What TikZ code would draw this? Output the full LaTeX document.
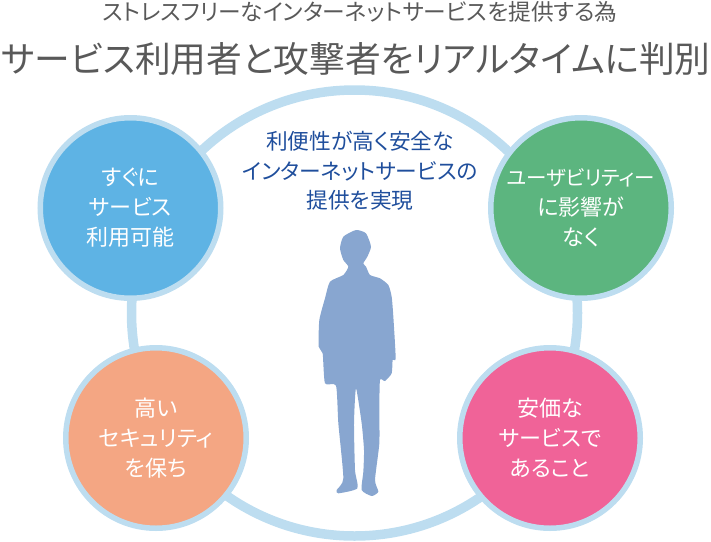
\documentclass[tikz,border=0pt]{standalone}
\usepackage{fontspec}
\setmainfont[RawFeature=+palt]{Noto Sans CJK JP}
\definecolor{ringblue}{HTML}{BDDDF0}
\definecolor{skyblue}{HTML}{5EB3E4}
\definecolor{leafgreen}{HTML}{5CB57F}
\definecolor{peach}{HTML}{F4A683}
\definecolor{rose}{HTML}{F06398}
\definecolor{figureblue}{HTML}{88A6D0}
\definecolor{navy}{HTML}{1F4E9C}
\definecolor{titlegray}{HTML}{595959}
\tikzset{
         bubble/.style=
          {
           circle,
           draw=ringblue,
           line width=5.5pt,
           minimum size=180.5pt,
           inner sep=0pt,
           align=center,
           text=white,
           font=\fontsize{22}{30}\selectfont
          }
        }
\begin{document}
\begin{tikzpicture}[x=1pt,y=-1pt]
\useasboundingbox(0,0)rectangle(711,541);
\draw[ringblue,line width=9.5pt](354.5,313)circle(223); %big ring
\node[bubble,fill=skyblue](quick)at(130.5,208){すぐに\\サービス\\利用可能};
\node[bubble,fill=leafgreen](usable)at(581,208){{\fontsize{20.5}{30}\selectfont ユーザビリティー}\\に影響が\\なく};
\node[bubble,fill=peach](secure)at(156,438){高い\\セキュリティ\\を保ち};
\node[bubble,fill=rose](cheap)at(550,438){安価な\\サービスで\\あること};
%person
\fill[figureblue,shift={(280,210)},scale=1/3]plot[smooth cycle,tension=.35]coordinates{
(228,60)(258,70)(273,110)(262,140)(250,160)(258,170)(270,195)(300,205)(325,225)(335,260)(340,320)(347,445)(338,450)(335,490)
(315,513)(300,510)(298,600)(298,700)(285,810)(295,845)(275,858)(245,840)(250,785)(252,720)(245,640)(228,535)
(222,640)(225,780)(232,835)(175,850)(170,840)(190,805)(175,640)(168,527)(135,520)(128,430)(116,410)
(118,330)(135,265)(150,215)(190,195)(205,170)(190,150)(180,115)(190,80)};
%labels
\node[text=titlegray,font=\fontsize{22.7}{24}\selectfont](subtitle)at(360,12){ストレスフリーなインターネットサービスを提供する為};
\node[text=titlegray,font=\fontsize{35.7}{40}\selectfont](title)at(356,59){サービス利用者と攻撃者をリアルタイムに判別};
\node[text=navy,align=center,font=\fontsize{21.7}{29.5}\selectfont](goal)at(360,171){利便性が高く安全な\\インターネットサービスの\\提供を実現};
\end{tikzpicture}
\end{document}
